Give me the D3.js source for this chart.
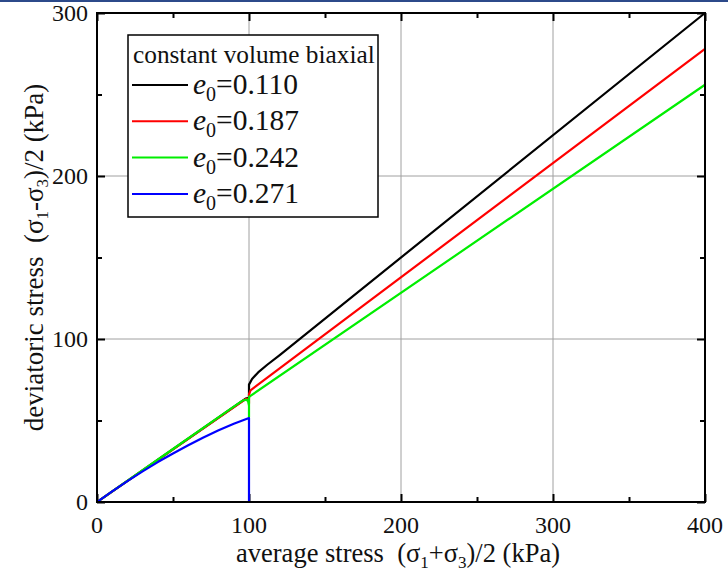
<!DOCTYPE html>
<html><head><meta charset="utf-8">
<script src="https://cdn.jsdelivr.net/npm/d3@7"></script>
<style>body{margin:0;background:#fff}svg{display:block}text{font-family:"Liberation Serif","Times New Roman",serif;fill:#111;white-space:pre}</style>
</head><body><svg id="c" width="728" height="580"></svg>
<script>
const seriesNames = ["0.110","0.187","0.242","0.271"];
const seriesColors = ["#000000","#ff0000","#00ee00","#0000ff"];
const blackPts = [[0,0],[98,63.5],[100,64],[100,72],[102,75.5],[106,79.5],[112,84.2],[120,90],[400,300]];
const redPts = [[0,0],[98,63.3],[100,63],[100,60.5],[100,66],[101,68.5],[400,278]];
const greenPts = [[0,0],[50,32.5],[90,58.5],[96,62.3],[98.5,62.8],[99.5,61.5],[100,59],[100,52],[100,64.5],[400,256]];
const bluePts = [[0,0],[10,6.5],[20,12.8],[30,18.8],[40,24.5],[50,29.8],[60,34.8],[70,39.6],[80,44],[90,48],[100,51.5],[100,0]];
const xTicks = [0,100,200,300,400];
const yTicks = [0,100,200,300];
const xMinor = [50,150,250,350];
const yMinor = [50,150,250];

const svg = d3.select("#c");
const L=97,R=705,T=13,B=502;
const x = d3.scaleLinear().domain([0,400]).range([L,R]);
const y = d3.scaleLinear().domain([0,300]).range([B,T]);

svg.append("rect").attr("x",0).attr("y",0).attr("width",728).attr("height",2).attr("fill","#2c4a8a");

// grid
svg.append("g").selectAll("line").data(xTicks.slice(1,-1)).join("line")
  .attr("x1",d=>x(d)).attr("x2",d=>x(d)).attr("y1",T).attr("y2",B).attr("stroke","#a0a0a0").attr("stroke-width",1);
svg.append("g").selectAll("line").data(yTicks.slice(1,-1)).join("line")
  .attr("y1",d=>y(d)).attr("y2",d=>y(d)).attr("x1",L).attr("x2",R).attr("stroke","#a0a0a0").attr("stroke-width",1);

// axes (inward ticks)
const ax = (g,axis)=>{g.call(axis);g.select(".domain").remove();g.selectAll("line").attr("stroke","#000").attr("stroke-width",2);};
svg.append("g").attr("transform",`translate(0,${B})`).call(g=>ax(g,d3.axisTop(x).tickValues(xTicks).tickSize(8).tickFormat("")));
svg.append("g").attr("transform",`translate(0,${B})`).call(g=>ax(g,d3.axisTop(x).tickValues(xMinor).tickSize(5).tickFormat("")));
svg.append("g").attr("transform",`translate(0,${T})`).call(g=>ax(g,d3.axisBottom(x).tickValues(xTicks).tickSize(8).tickFormat("")));
svg.append("g").attr("transform",`translate(0,${T})`).call(g=>ax(g,d3.axisBottom(x).tickValues(xMinor).tickSize(5).tickFormat("")));
svg.append("g").attr("transform",`translate(${L},0)`).call(g=>ax(g,d3.axisRight(y).tickValues(yTicks).tickSize(8).tickFormat("")));
svg.append("g").attr("transform",`translate(${L},0)`).call(g=>ax(g,d3.axisRight(y).tickValues(yMinor).tickSize(5).tickFormat("")));
svg.append("g").attr("transform",`translate(${R},0)`).call(g=>ax(g,d3.axisLeft(y).tickValues(yTicks).tickSize(8).tickFormat("")));
svg.append("g").attr("transform",`translate(${R},0)`).call(g=>ax(g,d3.axisLeft(y).tickValues(yMinor).tickSize(5).tickFormat("")));

// tick labels
svg.append("g").selectAll("text").data(xTicks).join("text")
  .attr("x",d=>x(d)).attr("y",B+31).attr("text-anchor","middle").attr("font-size",24).text(d=>d);
svg.append("g").selectAll("text").data(yTicks).join("text")
  .attr("x",L-9).attr("y",d=>y(d)+8).attr("text-anchor","end").attr("font-size",24).text(d=>d);

// lines
const line = d3.line().x(d=>x(d[0])).y(d=>y(d[1]));
svg.append("clipPath").attr("id","pc").append("rect").attr("x",L).attr("y",T-2).attr("width",R-L+2).attr("height",B-T+2);
[blackPts,redPts,greenPts,bluePts].forEach((pts,i)=>{
  svg.append("path").datum(pts).attr("d",line).attr("fill","none").attr("stroke",seriesColors[i])
    .attr("stroke-width",2.2).attr("stroke-linejoin","round").attr("clip-path","url(#pc)");
});

// frame
svg.append("rect").attr("x",L).attr("y",T).attr("width",R-L).attr("height",B-T).attr("fill","none").attr("stroke","#000").attr("stroke-width",2);

// legend
const lg = svg.append("g");
lg.append("rect").attr("x",128).attr("y",35).attr("width",250).attr("height",182).attr("fill","#fff").attr("stroke","#000").attr("stroke-width",1.5);
lg.append("text").attr("x",133).attr("y",63).attr("font-size",25.3).text("constant volume biaxial");
seriesNames.forEach((n,i)=>{
  const yy = 85 + i*36.3;
  lg.append("line").attr("x1",132).attr("x2",188).attr("y1",yy).attr("y2",yy).attr("stroke",seriesColors[i]).attr("stroke-width",2);
  const t = lg.append("text").attr("x",193).attr("y",yy+9).attr("font-size",29.5);
  t.append("tspan").attr("font-style","italic").text("e");
  t.append("tspan").attr("font-size",20).attr("dy",7).text("0");
  t.append("tspan").attr("dy",-7).text("="+n);
});

// axis titles
const xt = svg.append("text").attr("x",398).attr("y",562).attr("text-anchor","middle").attr("font-size",26.5);
xt.append("tspan").text("average stress  (σ");
xt.append("tspan").attr("font-size",17).attr("dy",6).text("1");
xt.append("tspan").attr("dy",-6).text("+σ");
xt.append("tspan").attr("font-size",17).attr("dy",6).text("3");
xt.append("tspan").attr("dy",-6).text(")/2 (kPa)");

const yt = svg.append("text").attr("transform",`translate(43,${(T+B)/2}) rotate(-90)`).attr("text-anchor","middle").attr("font-size",27);
yt.append("tspan").text("deviatoric stress  (σ");
yt.append("tspan").attr("font-size",17).attr("dy",5).text("1");
yt.append("tspan").attr("dy",-5).text("-σ");
yt.append("tspan").attr("font-size",17).attr("dy",5).text("3");
yt.append("tspan").attr("dy",-5).text(")/2 (kPa)");
</script></body></html>
